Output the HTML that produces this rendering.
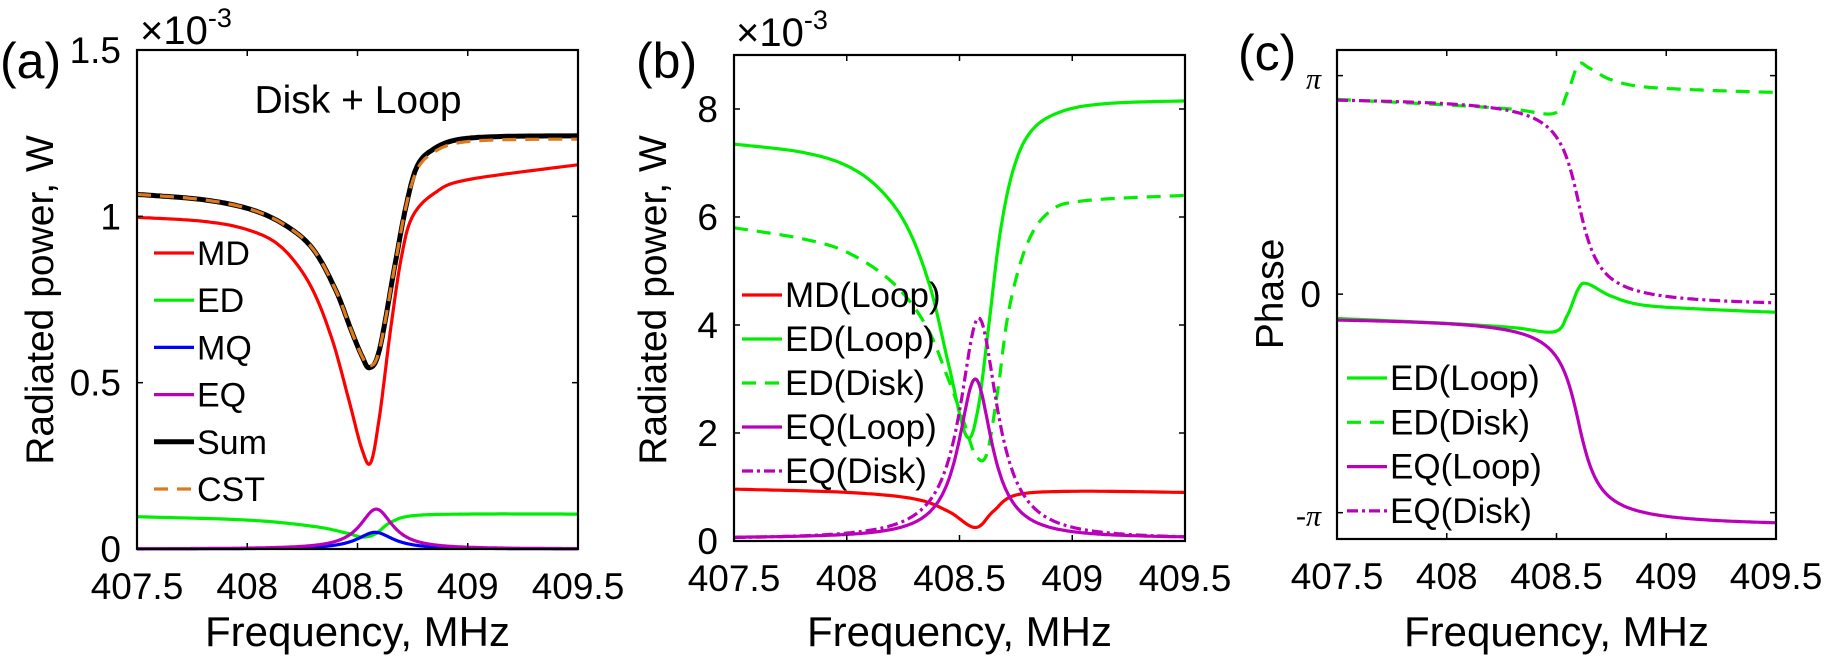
<!DOCTYPE html>
<html><head><meta charset="utf-8"><style>
html,body{margin:0;padding:0;background:#fff}
svg{display:block}
text{font-family:"Liberation Sans",Arial,sans-serif;fill:#000}
</style></head><body>
<svg id="s" width="1825" height="659" xmlns="http://www.w3.org/2000/svg"></svg>
<script>
const S=document.getElementById('s');let out='';
function cr(pts,n){
 const r=[];for(let i=0;i<pts.length-1;i++){const p0=pts[Math.max(0,i-1)],p1=pts[i],p2=pts[i+1],p3=pts[Math.min(pts.length-1,i+2)];
 for(let k=0;k<n;k++){const t=k/n,t2=t*t,t3=t2*t;
 const f=j=>0.5*((2*p1[j])+(-p0[j]+p2[j])*t+(2*p0[j]-5*p1[j]+4*p2[j]-p3[j])*t2+(-p0[j]+3*p1[j]-3*p2[j]+p3[j])*t3);
 r.push([f(0),f(1)]);}}r.push(pts[pts.length-1]);return r;}
function fn(g){const r=[];for(let i=0;i<=400;i++){const f=407.5+2*i/400;r.push([f,g(f)]);}return r;}
function panel(P){
 const X=f=>P.l+(f-407.5)/2*(P.r-P.l), Y=v=>P.b-(v-P.ymin)/(P.ymax-P.ymin)*(P.b-P.t);
 P.series.forEach(s=>{const pts=s.pts;const d=pts.map((p,i)=>(i?'L':'M')+X(p[0]).toFixed(1)+' '+Y(p[1]).toFixed(1)).join('');
  out+=`<path d="${d}" fill="none" stroke="${s.c}" stroke-width="${s.w||3.2}" ${s.da?'stroke-dasharray="'+s.da+'"':''} stroke-linejoin="round"/>`;});
 out+=`<rect x="${P.l}" y="${P.t}" width="${P.r-P.l}" height="${P.b-P.t}" fill="none" stroke="#000" stroke-width="2.2"/>`;
 [407.5,408,408.5,409,409.5].forEach(f=>{const x=X(f);out+=`<line x1="${x}" y1="${P.b}" x2="${x}" y2="${P.b-6}" stroke="#000" stroke-width="1.5"/><line x1="${x}" y1="${P.t}" x2="${x}" y2="${P.t+6}" stroke="#000" stroke-width="1.5"/>`;
  out+=`<text x="${x}" y="${P.b+50}" font-size="37" text-anchor="middle">${f}</text>`;});
 P.yt.forEach(([v,lab,st])=>{const y=Y(v);out+=`<line x1="${P.l}" y1="${y}" x2="${P.l+6}" y2="${y}" stroke="#000" stroke-width="1.5"/><line x1="${P.r}" y1="${y}" x2="${P.r-6}" y2="${y}" stroke="#000" stroke-width="1.5"/>`;
  out+=`<text x="${P.l-16}" y="${y+13}" font-size="${st?30:37}" text-anchor="end" ${st?'style="font-family:Liberation Serif,serif;font-style:italic"':''}>${lab}</text>`;});
 out+=`<text x="${(P.l+P.r)/2}" y="646" font-size="42" text-anchor="middle">Frequency, MHz</text>`;
 out+=`<text transform="translate(${P.yl[0]},${P.yl[1]}) rotate(-90)" font-size="39" text-anchor="middle">${P.ylab}</text>`;
 P.leg.items.forEach((it,i)=>{const y=P.leg.y+i*P.leg.dy;
  out+=`<line x1="${P.leg.x}" y1="${y}" x2="${P.leg.x+40}" y2="${y}" stroke="${it.c}" stroke-width="${it.w||3.2}" ${it.lda?'stroke-dasharray="'+it.lda+'"':''}/>`;
  out+=`<text x="${P.leg.x+43}" y="${y+12}" font-size="${P.leg.fs}">${it.t}</text>`;});
}
const L=(A,f0,g,b)=>f=>(b||0)+A/(1+((f-f0)/g)**2);
const R='#ff0000',G='#00ee00',B='#0000ff',M='#bb00bb',O='#dd7a1e';
const DD='11 4 3 4';
panel({l:137,r:578,t:50,b:549,ymin:0,ymax:1.5,ylab:'Radiated power, W',yl:[53,300],
 yt:[[0,'0'],[0.5,'0.5'],[1,'1'],[1.5,'1.5']],
 series:[
 {c:G,pts:cr([[407.5,0.097],[408,0.087],[408.3,0.068],[408.45,0.048],[408.52,0.036],[408.58,0.045],[408.65,0.08],[408.75,0.1],[409,0.105],[409.5,0.105]],20)},
 {c:B,pts:fn(L(0.05,408.58,0.1))},
 {c:M,pts:fn(L(0.12,408.585,0.09))},
 {c:R,pts:cr([[407.5,0.997],[407.8,0.985],[408.0,0.96],[408.15,0.91],[408.28,0.80],[408.38,0.64],[408.46,0.45],[408.52,0.3],[408.56,0.26],[408.6,0.4],[408.65,0.66],[408.7,0.88],[408.75,1.0],[408.85,1.07],[409.0,1.11],[409.5,1.155]],20)},
 {c:'#000',w:5,pts:cr([[407.5,1.066],[407.8,1.05],[408.02,1.02],[408.18,0.97],[408.3,0.9],[408.4,0.78],[408.47,0.66],[408.52,0.58],[408.555,0.545],[408.6,0.6],[408.67,0.855],[408.72,1.03],[408.77,1.15],[408.84,1.2],[408.95,1.23],[409.15,1.24],[409.5,1.242]],20)},
 {c:O,w:3.2,da:'14 9',pts:cr([[407.5,1.066],[407.8,1.05],[408.02,1.02],[408.18,0.97],[408.3,0.9],[408.4,0.78],[408.47,0.66],[408.52,0.58],[408.555,0.55],[408.6,0.6],[408.67,0.855],[408.72,1.03],[408.77,1.14],[408.84,1.19],[408.95,1.22],[409.15,1.23],[409.5,1.232]],20)}],
 leg:{x:154,y:253,dy:47.2,fs:34,items:[{c:R,t:'MD'},{c:G,t:'ED'},{c:B,t:'MQ'},{c:M,t:'EQ'},{c:'#000',w:5,t:'Sum'},{c:O,t:'CST',lda:'14 9'}]}});
panel({l:734,r:1185,t:55,b:541,ymin:0,ymax:9,ylab:'Radiated power, W',yl:[666,300],
 yt:[[0,'0'],[2,'2'],[4,'4'],[6,'6'],[8,'8']],
 series:[
 {c:R,pts:cr([[407.5,0.96],[408,0.9],[408.3,0.78],[408.45,0.55],[408.57,0.25],[408.65,0.55],[408.75,0.85],[409,0.92],[409.5,0.9]],20)},
 {c:G,pts:cr([[407.5,7.35],[407.8,7.2],[408.0,6.95],[408.15,6.5],[408.27,5.8],[408.37,4.7],[408.45,3.3],[408.53,1.95],[408.58,2.4],[408.63,4.0],[408.68,5.7],[408.74,6.9],[408.82,7.6],[408.95,7.95],[409.15,8.1],[409.5,8.15]],20)},
 {c:G,da:'14 9',pts:cr([[407.5,5.8],[407.8,5.6],[408.0,5.35],[408.2,4.8],[408.35,4.0],[408.45,3.0],[408.52,2.2],[408.57,1.6],[408.62,1.6],[408.67,2.8],[408.72,4.3],[408.8,5.5],[408.9,6.1],[409.05,6.3],[409.5,6.4]],20)},
 {c:M,pts:fn(L(2.95,408.57,0.09,0.05))},
 {c:M,da:DD,pts:fn(L(4.1,408.585,0.1,0.03))}],
 leg:{x:742,y:295,dy:44,fs:35,items:[{c:R,t:'MD(Loop)'},{c:G,t:'ED(Loop)'},{c:G,t:'ED(Disk)',lda:'14 9'},{c:M,t:'EQ(Loop)'},{c:M,t:'EQ(Disk)',lda:DD}]}});
const eqd=f=>2.85-3.05*(Math.atan((f-408.6)/0.07)/Math.PI+0.5);
panel({l:1337,r:1776,t:50,b:539,ymin:-3.52,ymax:3.51,ylab:'Phase',yl:[1283,294],
 yt:[[Math.PI,'π',1],[0,'0'],[-Math.PI,'-π',1]],
 series:[
 {c:G,pts:cr([[407.5,-0.35],[408,-0.42],[408.3,-0.48],[408.49,-0.54],[408.55,-0.3],[408.6,0.08],[408.64,0.15],[408.75,-0.03],[408.9,-0.16],[409.2,-0.22],[409.5,-0.26]],20)},
 {c:G,da:'14 9',pts:cr([[407.5,2.80],[408,2.72],[408.3,2.66],[408.49,2.60],[408.55,2.9],[408.6,3.3],[408.65,3.25],[408.75,3.08],[408.9,2.98],[409.2,2.93],[409.5,2.90]],20)},
 {c:M,pts:fn(f=>eqd(f)-Math.PI-0.02)},
 {c:M,da:DD,pts:fn(eqd)}],
 leg:{x:1347,y:378,dy:44.3,fs:35,items:[{c:G,t:'ED(Loop)'},{c:G,t:'ED(Disk)',lda:'14 9'},{c:M,t:'EQ(Loop)'},{c:M,t:'EQ(Disk)',lda:DD}]}});
out+=`<text x="358" y="113" font-size="39" text-anchor="middle">Disk + Loop</text>`;
out+=`<text x="0" y="78" font-size="50">(a)</text><text x="636" y="78" font-size="50">(b)</text><text x="1238" y="70" font-size="50">(c)</text>`;
out+=`<text x="140" y="44" font-size="40">×10<tspan font-size="27" dy="-17">-3</tspan></text>`;
out+=`<text x="736" y="46" font-size="40">×10<tspan font-size="27" dy="-17">-3</tspan></text>`;
S.innerHTML=out;
</script>
</body></html>
